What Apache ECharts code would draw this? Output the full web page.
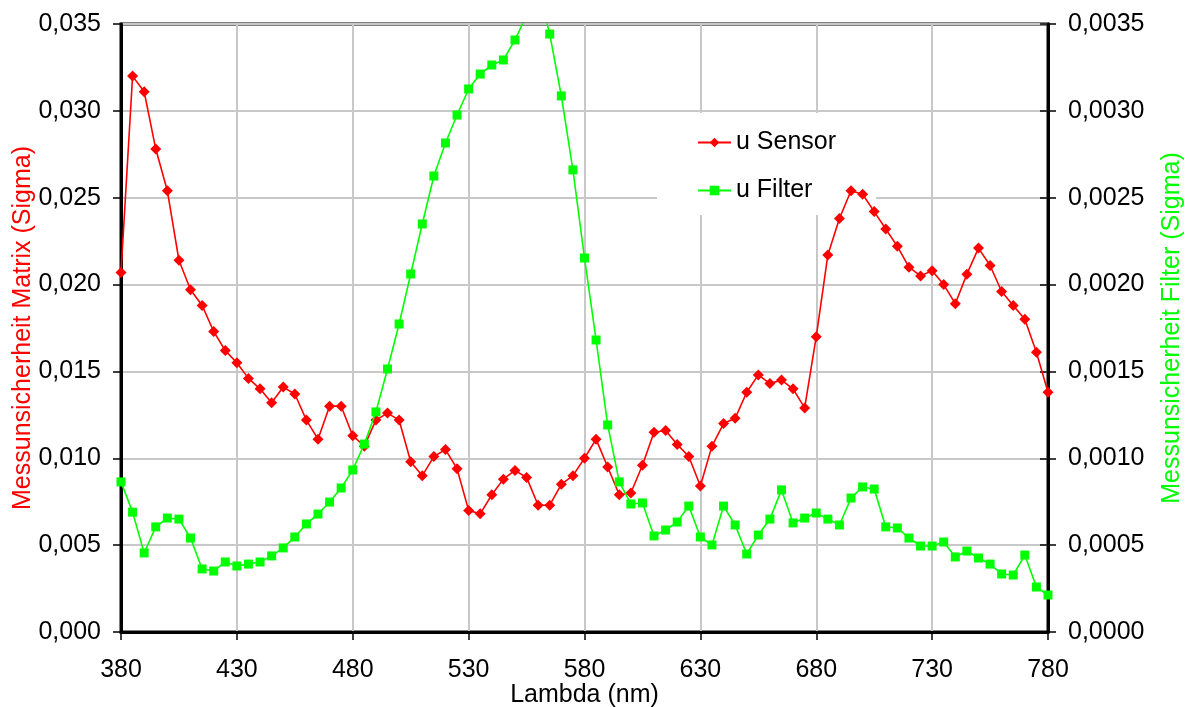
<!DOCTYPE html>
<html>
<head>
<meta charset="utf-8">
<script src="https://cdn.jsdelivr.net/npm/echarts@6/dist/echarts.min.js"></script>
<style>
html,body{margin:0;padding:0;background:#fff;}
#chart{width:1190px;height:707px;}
</style>
</head>
<body>
<div id="chart"></div>
<script>
const wavelengths = [380,385,390,395,400,405,410,415,420,425,430,435,440,445,450,455,460,465,470,475,480,485,490,495,500,505,510,515,520,525,530,535,540,545,550,555,560,565,570,575,580,585,590,595,600,605,610,615,620,625,630,635,640,645,650,655,660,665,670,675,680,685,690,695,700,705,710,715,720,725,730,735,740,745,750,755,760,765,770,775,780];
const uSensor = [0.0207,0.0320,0.0311,0.0278,0.0254,0.0214,0.0197,0.0188,0.0173,0.0162,0.0155,0.0146,0.0140,0.0132,0.0141,0.0137,0.0122,0.0111,0.0130,0.0130,0.0113,0.0107,0.0122,0.0126,0.0122,0.0098,0.0090,0.0101,0.0105,0.0094,0.0070,0.0068,0.0079,0.0088,0.0093,0.0089,0.0073,0.0073,0.0085,0.0090,0.0100,0.0111,0.0095,0.0079,0.0080,0.0096,0.0115,0.0116,0.0108,0.0101,0.0084,0.0107,0.0120,0.0123,0.0138,0.0148,0.0143,0.0145,0.0140,0.0129,0.0170,0.0217,0.0238,0.0254,0.0252,0.0242,0.0232,0.0222,0.0210,0.0205,0.0208,0.0200,0.0189,0.0206,0.0221,0.0211,0.0196,0.0188,0.0180,0.0161,0.0138];
const uFilter = [0.000864,0.00069,0.000455,0.000605,0.000656,0.00065,0.000541,0.000363,0.000351,0.000403,0.00038,0.000391,0.000403,0.000438,0.000484,0.000547,0.000622,0.000679,0.000748,0.000829,0.000933,0.001082,0.001267,0.001514,0.001773,0.002061,0.002349,0.002625,0.002815,0.002976,0.003126,0.003212,0.003264,0.003293,0.003408,0.00355,0.0037,0.003442,0.003086,0.00266,0.002153,0.001681,0.001192,0.000864,0.000737,0.000743,0.000553,0.000587,0.000633,0.000725,0.000547,0.000501,0.000725,0.000616,0.000449,0.000558,0.00065,0.000818,0.000628,0.000656,0.000685,0.00065,0.000616,0.000771,0.000835,0.000823,0.000605,0.000599,0.000541,0.000495,0.000495,0.000518,0.000432,0.000466,0.000426,0.000391,0.000334,0.000328,0.000443,0.000259,0.000213];
const seriesNames = ['u Sensor','u Filter'];
const xTitle = 'Lambda (nm)';
const yLeftTitle = 'Messunsicherheit Matrix (Sigma)';
const yRightTitle = 'Messunsicherheit Filter (Sigma)';

const FONT = '"Liberation Sans", Arial, sans-serif';
const fmt = (d) => (v) => v.toFixed(d).replace('.', ',');

const chart = echarts.init(document.getElementById('chart'), null, {renderer:'canvas'});
chart.setOption({
  animation: false,
  backgroundColor: '#fff',
  textStyle: {fontFamily: FONT},
  grid: {left:121, right:142, top:24, bottom:75, outerBoundsMode:'none', containLabel:false,
         show:true, borderColor:'#000', borderWidth:3, backgroundColor:'transparent'},
  legend: {
    orient:'vertical', left:657, top:113, z:1,
    backgroundColor:'#fff',
    padding:[17,40,12,40],
    itemGap:23, itemWidth:33, itemHeight:12,
    textStyle:{fontSize:25, color:'#000', fontFamily:FONT},
    data: seriesNames
  },
  xAxis: {
    type:'value', min:380, max:780, interval:50,
    name: xTitle, nameLocation:'middle', nameGap:51, nameMoveOverlap:false,
    nameTextStyle:{fontSize:25, color:'#000', fontFamily:FONT},
    axisLine:{show:true, lineStyle:{color:'#000', width:3}},
    axisTick:{show:true, inside:false, length:8, lineStyle:{color:'#000', width:1.5}},
    axisLabel:{fontSize:25, color:'#000', margin:26, fontFamily:FONT},
    splitLine:{show:true, lineStyle:{color:'#c8c8c8', width:2}}
  },
  yAxis: [
    {
      type:'value', min:0, max:0.035, interval:0.005, position:'left',
      name: yLeftTitle, nameLocation:'middle', nameGap:85, nameRotate:90, nameMoveOverlap:false,
      nameTextStyle:{fontSize:25, color:'#ff0000', fontFamily:FONT},
      axisLine:{show:true, lineStyle:{color:'#000', width:3}},
      axisTick:{show:true, inside:false, length:8, lineStyle:{color:'#000', width:1.5}},
      axisLabel:{fontSize:25, color:'#000', margin:20, formatter:fmt(3), fontFamily:FONT},
      splitLine:{show:true, lineStyle:{color:'#c8c8c8', width:2}}
    },
    {
      type:'value', min:0, max:0.0035, interval:0.0005, position:'right',
      name: yRightTitle, nameLocation:'middle', nameGap:112, nameRotate:90, nameMoveOverlap:false,
      nameTextStyle:{fontSize:25, color:'#00ff00', fontFamily:FONT},
      axisLine:{show:true, lineStyle:{color:'#000', width:3}},
      axisTick:{show:true, inside:false, length:8, lineStyle:{color:'#000', width:1.5}},
      axisLabel:{fontSize:25, color:'#000', margin:20, formatter:fmt(4), fontFamily:FONT},
      splitLine:{show:false}
    },
    {
      type:'value', min:0, max:0.0035, interval:0.0005, position:'right',
      axisLine:{show:false},
      axisTick:{show:true, inside:true, length:8, lineStyle:{color:'#000', width:1.5}},
      axisLabel:{show:false},
      splitLine:{show:false}
    }
  ],
  series: [
    {
      name: seriesNames[0], type:'line', yAxisIndex:0, z:2,
      data: wavelengths.map((w,i)=>[w,uSensor[i]]),
      symbol:'diamond', symbolSize:11, showAllSymbol:true,
      lineStyle:{color:'#ff0000', width:1.6},
      itemStyle:{color:'#ff0000'},
      clip:true
    },
    {
      name: seriesNames[1], type:'line', yAxisIndex:1, z:3,
      data: wavelengths.map((w,i)=>[w,uFilter[i]]),
      symbol:'rect', symbolSize:9, showAllSymbol:true,
      lineStyle:{color:'#00ff00', width:1.6},
      itemStyle:{color:'#00ff00'},
      clip:true
    }
  ]
});
</script>
</body>
</html>
